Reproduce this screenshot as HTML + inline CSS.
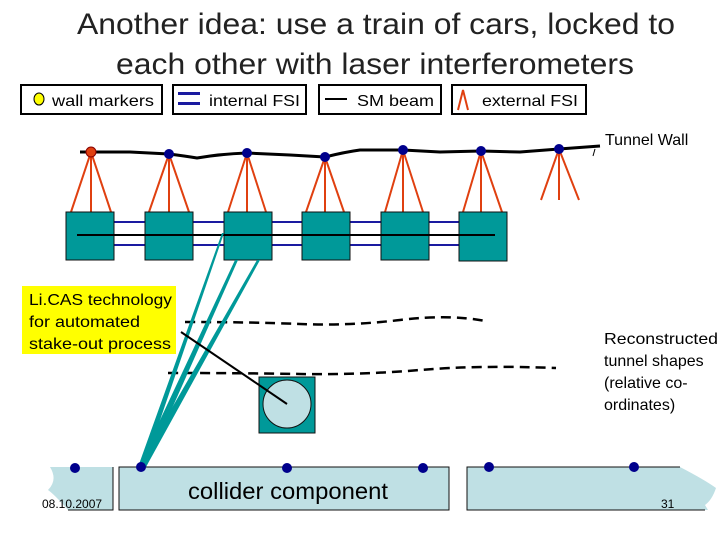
<!DOCTYPE html>
<html><head><meta charset="utf-8"><style>
html,body{margin:0;padding:0;background:#fff}
svg{display:block}
text{font-family:"Liberation Sans",sans-serif}
</style></head><body>
<svg width="720" height="540" viewBox="0 0 720 540" xmlns="http://www.w3.org/2000/svg">
<text x="376" y="34" font-size="30" text-anchor="middle" fill="#222" textLength="598" lengthAdjust="spacingAndGlyphs">Another idea: use a train of cars, locked to</text>
<text x="375" y="74" font-size="30" text-anchor="middle" fill="#222" textLength="518" lengthAdjust="spacingAndGlyphs">each other with laser interferometers</text>
<!-- legend -->
<g stroke="#000" stroke-width="2" fill="#fff">
<rect x="21" y="85" width="141" height="29"/>
<rect x="173" y="85" width="133" height="29"/>
<rect x="319" y="85" width="122" height="29"/>
<rect x="452" y="85" width="134" height="29"/>
</g>
<ellipse cx="39" cy="99" rx="5" ry="6" fill="#ff0" stroke="#000"/>
<text x="52" y="106" font-size="16" textLength="102" lengthAdjust="spacingAndGlyphs">wall markers</text>
<rect x="178" y="92" width="22" height="3" fill="#1a1aa0"/>
<rect x="178" y="102" width="22" height="3" fill="#1a1aa0"/>
<text x="209" y="106" font-size="16" textLength="91" lengthAdjust="spacingAndGlyphs">internal FSI</text>
<line x1="325" y1="99" x2="347" y2="99" stroke="#000" stroke-width="2"/>
<text x="357" y="106" font-size="16" textLength="77" lengthAdjust="spacingAndGlyphs">SM beam</text>
<path d="M458 110 L463 90 L468 110" stroke="#e04010" stroke-width="2" fill="none"/>
<text x="482" y="106" font-size="16" textLength="96" lengthAdjust="spacingAndGlyphs">external FSI</text>
<!-- wall -->
<path d="M80 152 L130 152 L169 154 Q185 156 197 158 Q220 154 247 153 L290 155 L325 157 Q345 152 360 150 L403 150 L440 152 L481 151 L520 152 L559 149 L600 146" stroke="#000" stroke-width="3" fill="none" stroke-linejoin="round"/>
<line x1="595" y1="149" x2="593" y2="156" stroke="#000"/>
<text x="605" y="145" font-size="16">Tunnel Wall</text>
<g stroke="#e04010" stroke-width="2" fill="none">
<path d="M71 212 L91 152 L111 212 M91 152 L91 212"/>
<path d="M149 212 L169 154 L189 212 M169 154 L169 212"/>
<path d="M228 212 L247 153 L266 212 M247 153 L247 212"/>
<path d="M306 212 L325 157 L344 212 M325 157 L325 212"/>
<path d="M385 212 L403 150 L423 212 M403 150 L403 212"/>
<path d="M463 212 L481 151 L502 212 M481 151 L481 212"/>
<path d="M541 200 L559 149 L579 200 M559 149 L559 200"/>
</g>
<g fill="#00008c">
<circle cx="169" cy="154" r="5"/><circle cx="247" cy="153" r="5"/><circle cx="325" cy="157" r="5"/>
<circle cx="403" cy="150" r="5"/><circle cx="481" cy="151" r="5"/><circle cx="559" cy="149" r="5"/>
</g>
<circle cx="91" cy="152" r="5" fill="#e04010" stroke="#800"/>
<!-- cars -->
<g stroke="#1a1aa0" stroke-width="2">
<line x1="114" y1="222" x2="459" y2="222"/><line x1="114" y1="245" x2="459" y2="245"/>
</g>
<g fill="#009999" stroke="#111" stroke-width="1">
<rect x="66" y="212" width="48" height="48"/><rect x="145" y="212" width="48" height="48"/>
<rect x="224" y="212" width="48" height="48"/><rect x="302" y="212" width="48" height="48"/>
<rect x="381" y="212" width="48" height="48"/><rect x="459" y="212" width="48" height="49"/>
</g>
<line x1="77" y1="235" x2="495" y2="235" stroke="#000" stroke-width="2"/>
<!-- dashed -->
<path d="M185 322 Q250 322 300 324 T400 320 T485 321" stroke="#000" stroke-width="2.5" stroke-dasharray="10 6" fill="none"/>
<path d="M168 373 Q240 373 300 374 T420 370 T556 368" stroke="#000" stroke-width="2.5" stroke-dasharray="10 6" fill="none"/>
<!-- teal rays -->
<g fill="#009999">
<polygon points="138,467 144,467 224,233 222,233"/>
<polygon points="138,467 146,467 238,260 235,260"/>
<polygon points="138,467 146,467 260,260 257,260"/>
</g>
<!-- yellow -->
<rect x="22" y="286" width="154" height="68" fill="#ffff00"/>
<text x="29" y="305" font-size="16" textLength="143" lengthAdjust="spacingAndGlyphs">Li.CAS technology</text>
<text x="29" y="327" font-size="16" textLength="111" lengthAdjust="spacingAndGlyphs">for automated</text>
<text x="29" y="349" font-size="16" textLength="142" lengthAdjust="spacingAndGlyphs">stake-out process</text>
<!-- small box -->
<rect x="259" y="377" width="56" height="56" fill="#009999" stroke="#111"/>
<circle cx="287" cy="404" r="24" fill="#bfe0e4" stroke="#111"/>
<line x1="181" y1="332" x2="287" y2="404" stroke="#000" stroke-width="2"/>
<text x="604" y="344" font-size="16" textLength="114" lengthAdjust="spacingAndGlyphs">Reconstructed</text>
<text x="604" y="366" font-size="16">tunnel shapes</text>
<text x="604" y="388" font-size="16">(relative co-</text>
<text x="604" y="410" font-size="16">ordinates)</text>
<!-- bottom -->
<path d="M50 467 L113 467 L113 510 L68 510 Q55 495 48 490 Q58 480 50 467Z" fill="#bfe0e4"/>
<path d="M113 467 L113 510 L68 510" stroke="#111" fill="none"/>
<rect x="119" y="467" width="330" height="43" fill="#bfe0e4" stroke="#111"/>
<path d="M467 467 L680 467 Q705 480 716 488 Q712 500 705 505 L708 510 L467 510Z" fill="#bfe0e4"/>
<path d="M680 467 L467 467 L467 510 L705 510" stroke="#111" fill="none"/>
<g fill="#00008c">
<circle cx="75" cy="468" r="5"/><circle cx="141" cy="467" r="5"/><circle cx="287" cy="468" r="5"/>
<circle cx="423" cy="468" r="5"/><circle cx="489" cy="467" r="5"/><circle cx="634" cy="467" r="5"/>
</g>
<text x="188" y="499" font-size="23" textLength="200" lengthAdjust="spacingAndGlyphs">collider component</text>
<text x="42" y="508" font-size="12">08.10.2007</text>
<text x="661" y="508" font-size="12">31</text>
</svg>
</body></html>
